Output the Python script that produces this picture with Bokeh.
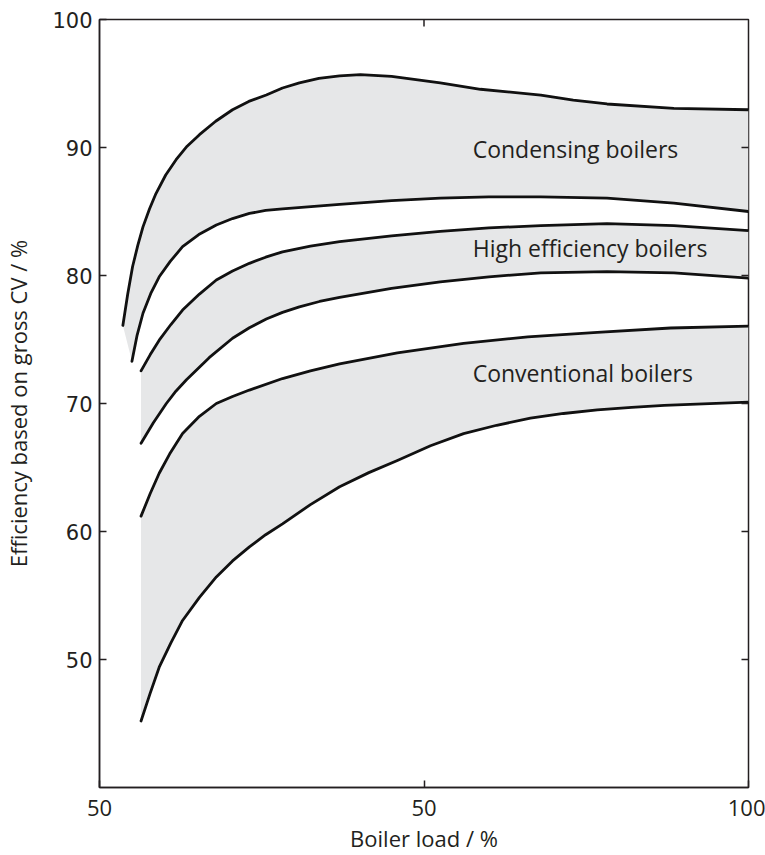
import math
from bokeh.plotting import figure
from bokeh.models import Range1d, FixedTicker
from bokeh.core.properties import value
from bokeh.embed import file_html
from bokeh.resources import INLINE

# ---- data (x = boiler load %, y = efficiency %) ----
cond_upper_x = [3.6, 4.35, 5.1, 5.9, 6.7, 7.7, 8.7, 10.2, 11.8, 13.5, 15.4, 17.9, 20.5, 23.0, 25.7, 28.2, 30.8,
                33.8, 37.0, 40.2, 45.0, 52.5, 58.7, 68.0, 73.0, 78.2, 88.5, 100]
cond_upper_y = [76.1, 78.55, 80.7, 82.35, 83.8, 85.2, 86.4, 87.85, 89.05, 90.1, 91.0, 92.05, 92.95, 93.6, 94.1, 94.65, 95.05,
                95.4, 95.6, 95.7, 95.55, 95.05, 94.55, 94.1, 93.7, 93.4, 93.05, 92.95]

cond_lower_x = [5.0, 5.8, 6.7, 7.9, 9.2, 10.9, 12.8, 15.3, 18.0, 20.5, 23.1, 25.6, 28.2, 37.0, 45.0, 52.5, 60.0, 68.0,
                78.2, 88.5, 100]
cond_lower_y = [73.3, 75.35, 77.05, 78.6, 79.9, 81.1, 82.25, 83.2, 83.95, 84.45, 84.85, 85.08, 85.2, 85.55, 85.85, 86.05,
                86.15, 86.15, 86.05, 85.65, 85.0]

high_upper_x = [6.4, 7.8, 9.2, 11.0, 12.8, 15.4, 18.0, 20.5, 23.1, 25.6, 28.2, 32.5, 37.0, 45.0, 52.5, 60.0, 68.0, 78.2,
                88.5, 100]
high_upper_y = [72.55, 73.8, 74.95, 76.17, 77.3, 78.55, 79.65, 80.35, 80.95, 81.43, 81.85, 82.3, 82.65, 83.1, 83.45, 83.72,
                83.9, 84.05, 83.9, 83.5]

high_lower_x = [6.4, 8.3, 10.3, 11.8, 13.4, 16.9, 20.5, 23.1, 25.7, 28.2, 30.8, 33.9, 37.0, 45.0, 52.5, 60.0, 68.0, 78.2,
                88.5, 100]
high_lower_y = [66.9, 68.5, 70.0, 70.98, 71.85, 73.58, 75.1, 75.92, 76.6, 77.12, 77.55, 77.97, 78.3, 79.0, 79.5, 79.9,
                80.2, 80.3, 80.2, 79.8]

conv_upper_x = [6.4, 7.8, 9.2, 10.8, 12.8, 15.4, 18.0, 20.5, 23.1, 28.2, 32.5, 37.0, 45.9, 56.1, 66.0, 76.7, 88.0, 100]
conv_upper_y = [61.2, 62.95, 64.55, 66.05, 67.65, 69.0, 70.0, 70.55, 71.05, 71.95, 72.55, 73.1, 73.95, 74.7, 75.2, 75.55,
                75.9, 76.05]

conv_lower_x = [6.4, 7.8, 9.2, 11.0, 12.8, 15.4, 18.0, 20.5, 23.1, 25.6, 28.2, 32.5, 37.0, 41.5, 45.9, 51.0, 56.1, 61.2,
                66.4, 71.5, 76.7, 82.0, 87.0, 100]
conv_lower_y = [45.2, 47.35, 49.4, 51.3, 53.05, 54.85, 56.45, 57.7, 58.8, 59.75, 60.6, 62.1, 63.5, 64.6, 65.55, 66.7, 67.65,
                68.3, 68.85, 69.22, 69.5, 69.7, 69.85, 70.1]

band_labels = ["Condensing boilers", "High efficiency boilers", "Conventional boilers"]
label_x = [57.5, 57.5, 57.5]
label_y = [89.9, 82.15, 72.35]

x_ticks = [0, 50, 100]
x_tick_labels = {0: "50", 50: "50", 100: "100"}
y_ticks = [50, 60, 70, 80, 90, 100]
top_ticks = [50]
right_ticks = [50, 60, 70, 80, 90]

X_MIN, X_MAX = 0, 100
Y_MIN, Y_MAX = 40, 100

INK = "#231f20"
FILL = "#e6e7e8"

p = figure(width=765, height=855, x_range=Range1d(X_MIN, X_MAX), y_range=Range1d(Y_MIN, Y_MAX),
           output_backend="svg", toolbar_location=None,
           min_border_left=99, min_border_right=17, min_border_top=19, min_border_bottom=68)
p.grid.visible = False
p.outline_line_color = INK
p.outline_line_width = 1.5
p.background_fill_color = "white"
p.border_fill_color = "white"

bands = [(cond_upper_x, cond_upper_y, cond_lower_x, cond_lower_y),
         (high_upper_x, high_upper_y, high_lower_x, high_lower_y),
         (conv_upper_x, conv_upper_y, conv_lower_x, conv_lower_y)]
for ux, uy, lx, ly in bands:
    p.patch(x=ux + lx[::-1], y=uy + ly[::-1], fill_color=FILL, line_color=None)

for ux, uy, lx, ly in bands:
    p.line(ux, uy, line_color="#111111", line_width=2.8, line_join="round", line_cap="round")
    p.line(lx, ly, line_color="#111111", line_width=2.8, line_join="round", line_cap="round")

p.text(x=label_x, y=label_y, text=band_labels, text_font=value("Open Sans"),
       text_font_size="23px", text_color=INK, text_baseline="middle", text_align="left")

# inward ticks on the top and right edges of the frame (half of each dash is clipped by the frame)
p.scatter(x=[X_MAX] * len(right_ticks), y=right_ticks, marker="dash", size=14,
          line_color=INK, line_width=1.5)
p.scatter(x=top_ticks, y=[Y_MAX] * len(top_ticks), marker="dash", size=14, angle=math.pi / 2,
          line_color=INK, line_width=1.5)

# bottom axis
xa = p.xaxis[0]
xa.ticker = FixedTicker(ticks=x_ticks)
xa.major_label_overrides = x_tick_labels
xa.axis_label = "Boiler load / %"
xa.axis_label_text_font = "Open Sans"
xa.axis_label_text_font_size = "22px"
xa.axis_label_text_font_style = "normal"
xa.axis_label_text_color = INK
xa.axis_label_standoff = 4
xa.major_label_text_font = "Open Sans"
xa.major_label_text_font_size = "22px"
xa.major_label_text_color = INK
xa.major_label_standoff = 12
xa.major_tick_in = 7
xa.major_tick_out = 0
xa.minor_tick_line_color = None
xa.axis_line_color = INK
xa.axis_line_width = 1.5
xa.major_tick_line_color = INK
xa.major_tick_line_width = 1.5

# left axis
ya = p.yaxis[0]
ya.ticker = FixedTicker(ticks=y_ticks)
ya.axis_label = "Efficiency based on gross CV / %"
ya.axis_label_text_font = "Open Sans"
ya.axis_label_text_font_size = "22px"
ya.axis_label_text_font_style = "normal"
ya.axis_label_text_color = INK
ya.axis_label_standoff = 16
ya.major_label_text_font = "DejaVu Sans"
ya.major_label_text_font_size = "21px"
ya.major_label_text_color = INK
ya.major_label_standoff = 7
ya.major_tick_in = 7
ya.major_tick_out = 0
ya.minor_tick_line_color = None
ya.axis_line_color = INK
ya.axis_line_width = 1.5
ya.major_tick_line_color = INK
ya.major_tick_line_width = 1.5

open("out.html", "w").write(file_html(p, INLINE))
